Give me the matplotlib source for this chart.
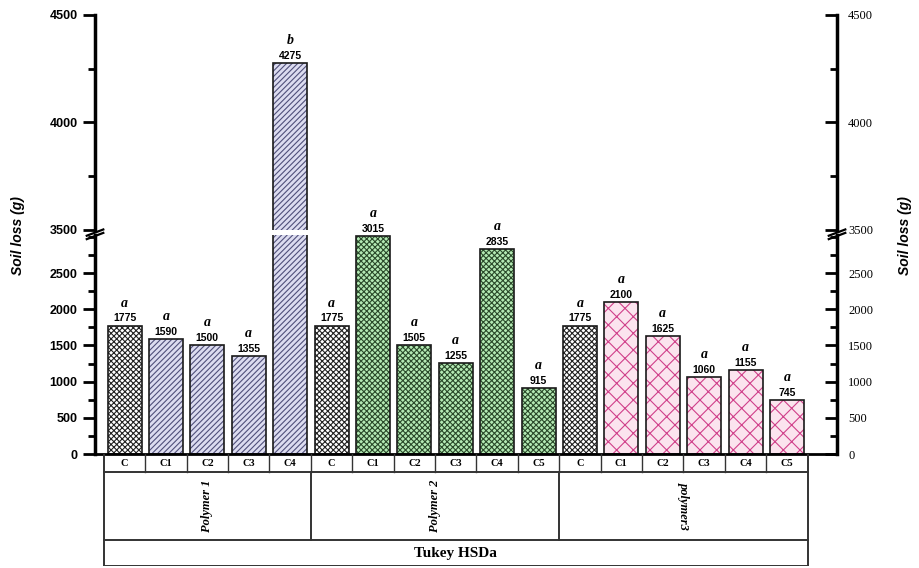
import matplotlib.pyplot as plt
from matplotlib.ticker import MultipleLocator

# Soil loss per treatment, grouped by polymer
groups = ["Polymer 1", "Polymer 2", "polymer3"]
treatments = [
    ["C", "C1", "C2", "C3", "C4"],
    ["C", "C1", "C2", "C3", "C4", "C5"],
    ["C", "C1", "C2", "C3", "C4", "C5"],
]
soil_loss = [
    [1775, 1590, 1500, 1355, 4275],
    [1775, 3015, 1505, 1255, 2835, 915],
    [1775, 2100, 1625, 1060, 1155, 745],
]
tukey = [
    ["a", "a", "a", "a", "b"],
    ["a", "a", "a", "a", "a", "a"],
    ["a", "a", "a", "a", "a", "a"],
]

# fill colour, hatch colour, hatch pattern for control and each polymer
control_style = ("#ffffff", "#222222", "xxxxxx")
polymer_styles = [
    ("#dcdcf0", "#50507a", "//////"),
    ("#b4eab4", "#2a4a2a", "xxxxxx"),
    ("#fbe4ee", "#d0408a", "xx"),
]

plt.rcParams["hatch.linewidth"] = 0.8

labels, values, letters, styles = [], [], [], []
for g, (tr, vals, lets) in enumerate(zip(treatments, soil_loss, tukey)):
    for t, v, l in zip(tr, vals, lets):
        labels.append(t)
        values.append(v)
        letters.append(l)
        styles.append(control_style if t == "C" else polymer_styles[g])
x = list(range(len(values)))

fig = plt.figure(figsize=(9.19, 5.68), dpi=100)
L, W = 0.1034, 0.8074
ax_lo = fig.add_axes([L, 0.2007, W, 0.3847])
ax_hi = fig.add_axes([L, 0.5951, W, 0.3785])
ax_tab = fig.add_axes([L, 0.0035, W, 0.1972])
ax_hi.patch.set_visible(False)

xlim = (-0.713, 17.21)
ax_lo.set_ylim(0, 3020)
ax_hi.set_ylim(3500, 4500)

for ax in (ax_lo, ax_hi):
    ax.set_xlim(*xlim)
    for xi, v, st in zip(x, values, styles):
        ax.bar(xi, v, width=0.82, color=st[0], edgecolor=st[1], hatch=st[2], linewidth=0)
        ax.bar(xi, v, width=0.82, fill=False, edgecolor="#1a1a1a", linewidth=1.2)
    ax.spines["top"].set_visible(False)
    ax.spines["left"].set_linewidth(2.5)
    ax.spines["right"].set_linewidth(2.5)
    ax.set_xticks([])
    ax.yaxis.set_major_locator(MultipleLocator(500))
    ax.yaxis.set_minor_locator(MultipleLocator(250))
    ax.tick_params(axis="y", which="major", direction="out", length=9, width=2,
                   labelsize=9)
    ax.tick_params(axis="y", which="minor", direction="out", length=5, width=2)

ax_hi.spines["bottom"].set_visible(False)
ax_lo.spines["bottom"].set_linewidth(2)
ax_lo.set_yticks([0, 500, 1000, 1500, 2000, 2500])
ax_hi.set_yticks([3500, 4000, 4500])

# left tick labels (bold sans) and twin right axes (serif, inward ticks)
for ax in (ax_lo, ax_hi):
    for lab in ax.get_yticklabels():
        lab.set_fontweight("bold")
        lab.set_family("Liberation Sans")
    rax = ax.twinx()
    rax.set_ylim(ax.get_ylim())
    rax.set_yticks(ax.get_yticks())
    rax.yaxis.set_minor_locator(MultipleLocator(250))
    rax.tick_params(axis="y", which="major", direction="in", length=9, width=2, pad=8,
                    labelsize=9)
    rax.tick_params(axis="y", which="minor", direction="in", length=5, width=2)
    for lab in rax.get_yticklabels():
        lab.set_family("Liberation Serif")
    for s in rax.spines.values():
        s.set_visible(False)

# break marks on both spines
for xs in (0, 1):
    fig.add_artist(plt.Line2D([L + W * xs - 0.009, L + W * xs + 0.009],
                              [0.5850, 0.5960], color="black", lw=1.6))
    fig.add_artist(plt.Line2D([L + W * xs - 0.009, L + W * xs + 0.009],
                              [0.5790, 0.5900], color="black", lw=1.6))

# value labels and Tukey letters
for xi, v, l in zip(x, values, letters):
    ax = ax_hi if v > 3100 else ax_lo
    ax.annotate(str(v), (xi, v), xytext=(0, 1.5), textcoords="offset points",
                ha="center", va="bottom", fontsize=7.5, fontweight="bold",
                family="Liberation Sans", annotation_clip=False, zorder=5)
    ax.annotate(l, (xi, v), xytext=(0, 11.5), textcoords="offset points",
                ha="center", va="bottom", fontsize=10, fontweight="bold",
                style="italic", family="Liberation Serif", annotation_clip=False,
                zorder=5)

fig.text(0.020, 0.585, "Soil loss (g)", rotation=90, ha="center", va="center",
         fontsize=10, fontweight="bold", style="italic", family="Liberation Sans")
fig.text(0.985, 0.585, "Soil loss (g)", rotation=90, ha="center", va="center",
         fontsize=10, fontweight="bold", style="italic", family="Liberation Sans")

# category table underneath
ax_tab.set_xlim(*xlim)
ax_tab.set_ylim(0, 112)
ax_tab.axis("off")
lc = "#333333"
left, right = -0.5, len(x) - 0.5
ax_tab.plot([left, left], [0, 112], color=lc, lw=1.4)
ax_tab.plot([right, right], [0, 112], color=lc, lw=1.4)
for yy in (0, 26, 94):
    ax_tab.plot([left, right], [yy, yy], color=lc, lw=1.4)
for xi in x[1:]:
    ax_tab.plot([xi - 0.5, xi - 0.5], [94, 112], color=lc, lw=1.0)
for xi, t in zip(x, labels):
    ax_tab.text(xi, 103, t, ha="center", va="center", fontsize=7.5,
                fontweight="bold", family="Liberation Serif")
start = 0
for g, tr in enumerate(treatments):
    end = start + len(tr)
    if g > 0:
        ax_tab.plot([start - 0.5, start - 0.5], [26, 94], color=lc, lw=1.4)
    ax_tab.text((start + end - 1) / 2, 60, groups[g], rotation=90 if g < 2 else 270,
                ha="center", va="center", fontsize=9, fontweight="bold",
                style="italic", family="Liberation Serif")
    start = end
ax_tab.text((left + right) / 2, 13, "Tukey HSDa", ha="center", va="center",
            fontsize=11, fontweight="bold", family="Liberation Serif")

fig.savefig("out.png", dpi=100)
